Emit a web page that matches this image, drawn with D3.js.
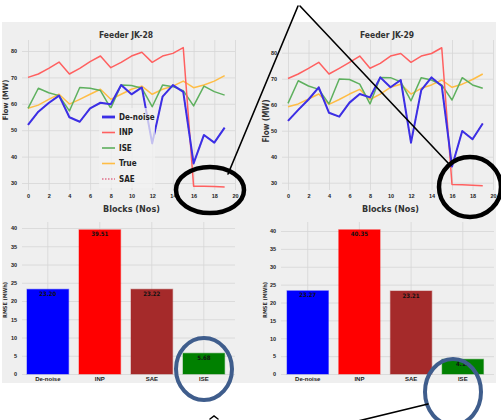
<!doctype html>
<html lang="en">
<head>
  <meta charset="utf-8">
  <title>Feeder JK-28 / JK-29</title>
  <style>
    * { margin: 0; padding: 0; box-sizing: border-box; }
    body { background: #fff; }
    svg { display: block; font-family: "DejaVu Sans Condensed", "DejaVu Sans", sans-serif; }
    .tick text { fill: #222; font-weight: bold; }
  </style>
</head>
<body>
  <div id="container"></div>
  <script src="https://cdn.jsdelivr.net/npm/d3@7"></script>
  <script>
    // blocks 0..19
    const blocks = d3.range(20);
    const xTicks = [0, 2, 4, 6, 8, 10, 12, 14, 16, 18, 20];
    const flowTicks = [30, 40, 50, 60, 70, 80];
    const rmseTicks = [0, 5, 10, 15, 20, 25, 30, 35, 40];

    const denoise28 = [52, 57, 60.3, 63.1, 54.9, 53.2, 58.3, 60.4, 59.8, 67.1, 63.6, 66.2, 45, 62.7, 67.1, 64.5, 37.4, 48.2, 45.3, 51];
    const inp28 = [70, 71.3, 73.4, 75.8, 71.3, 73.4, 76, 78.1, 73.7, 75.7, 78.1, 79.5, 75.7, 78.1, 79.1, 81.3, 28.8, 28.8, 28.7, 28.5];
    const ise28 = [58.3, 65.9, 64.2, 63.1, 57.3, 66.2, 65.9, 65, 58.3, 67.1, 66.9, 65.9, 58.9, 67.1, 66.5, 65, 59.2, 66.7, 64.6, 63.3];
    const true28 = [58.3, 59.5, 61.7, 63.6, 59.9, 61.7, 63.6, 65.5, 61.7, 63.6, 65.5, 66.7, 63.6, 65.5, 66.7, 68.6, 66.1, 67.1, 68.6, 70.7];

    const denoise29 = [53.8, 58, 62, 66.7, 56.9, 55.4, 60.8, 64.1, 62.8, 70.5, 66.7, 69.5, 45.4, 65.6, 70.5, 67.2, 36.2, 49.9, 46.7, 52.8];
    const inp29 = [70.1, 71.8, 74, 76.3, 71.8, 74, 76.3, 78.7, 74, 75.9, 78.7, 79.7, 76.3, 78.7, 79.7, 81.9, 29.3, 29.2, 29, 28.8];
    const ise29 = [60.5, 69.2, 67.2, 65.9, 60.3, 69.9, 69.7, 67.9, 60.3, 70.5, 70.4, 68.8, 61.5, 70.4, 69.5, 67.6, 61.8, 70.4, 67.6, 66.3];
    const true29 = [59.2, 60.3, 62.2, 64.1, 60.1, 62, 64.1, 65.9, 62, 64.1, 66.7, 67.9, 64.1, 66.3, 67.6, 69.5, 66.7, 67.9, 69.7, 71.8];

    // SAE sits under the De-noise curve (same RMSE), so it is hidden in the plot
    const sae28 = denoise28;
    const sae29 = denoise29;

    const methods = ['De-noise', 'INP', 'SAE', 'ISE'];
    const rmse28 = [23.20, 39.51, 23.22, 5.68];
    const rmse29 = [23.27, 40.35, 23.21, 4.12];

    const seriesNames = ['De-noise', 'INP', 'ISE', 'True', 'SAE'];
    const lineColor = { 'De-noise': '#3b2fe6', 'INP': '#ff6060', 'ISE': '#5eb05e', 'True': '#ffbd45', 'SAE': '#e0708a' };
    const barColor = ['#0000ff', '#ff0000', '#a52a2a', '#008000'];

    const W = 501, H = 420;
    const svg = d3.select('#container').append('svg').attr('width', W).attr('height', H);

    // gray backdrop of the pasted figure
    svg.append('rect').attr('x', 2).attr('y', 22).attr('width', 494).attr('height', 361).attr('fill', '#efefef');

    function lineChart(o) {
      const g = svg.append('g');
      const x = d3.scaleLinear().domain([0, 20]).range(o.xr);
      const y = d3.scaleLinear().domain([30, 80]).range(o.yr);

      // grid + tick labels
      g.append('g').attr('transform', `translate(0,${o.bottom})`)
        .call(d3.axisBottom(x).tickValues(xTicks).tickSize(-(o.bottom - o.top)).tickPadding(4))
        .call(a => a.select('.domain').remove())
        .call(a => a.selectAll('line').attr('stroke', '#d6d6d6').attr('stroke-width', 0.8))
        .call(a => a.selectAll('text').attr('font-size', 5.5));
      g.append('g').attr('transform', `translate(${o.left},0)`)
        .call(d3.axisLeft(y).tickValues(flowTicks).tickSize(-(o.right - o.left)).tickPadding(5))
        .call(a => a.select('.domain').remove())
        .call(a => a.selectAll('line').attr('stroke', '#d6d6d6').attr('stroke-width', 0.8))
        .call(a => a.selectAll('text').attr('font-size', 5.5));

      const line = d3.line().x((d, i) => x(i)).y(d => y(d));
      const draw = (name, data, w, dash) => g.append('path').datum(data)
        .attr('d', line).attr('fill', 'none').attr('stroke', lineColor[name])
        .attr('stroke-width', w).attr('stroke-dasharray', dash || null)
        .attr('stroke-linejoin', 'round');

      draw('SAE', o.sae, 1.3, '1.5,1.5');
      draw('True', o.tru, 1.5);
      draw('ISE', o.ise, 1.5);
      draw('INP', o.inp, 1.5);
      const legendBox = o.legend ? g.append('rect').attr('x', 99).attr('y', 108).attr('width', 56)
        .attr('height', 80).attr('fill', '#f2f2f2').attr('opacity', 0.75) : null;
      draw('De-noise', o.den, 2);
      if (legendBox) legendBox.raise();

      g.append('text').attr('x', o.titleX).attr('y', 35).attr('text-anchor', 'middle')
        .attr('dominant-baseline', 'middle').attr('font-size', 8.5).attr('font-weight', 'bold')
        .attr('fill', '#333').text(o.title);
      g.append('text').attr('x', (o.xr[0] + o.xr[1]) / 2).attr('y', 209).attr('text-anchor', 'middle')
        .attr('dominant-baseline', 'middle').attr('font-size', 9).attr('font-weight', 'bold')
        .attr('fill', '#333').text('Blocks (Nos)');
      g.append('text').attr('transform', `translate(${o.ylabX},${o.ylabY}) rotate(-90)`)
        .attr('text-anchor', 'middle').attr('dominant-baseline', 'middle')
        .attr('font-size', o.ylabSize).attr('font-weight', 'bold').attr('fill', '#333').text('Flow (MW)');

      if (o.legend) {
        const lg = g.append('g');
        seriesNames.forEach((n, i) => {
          const yy = 117 + i * 15.5;
          lg.append('line').attr('x1', 102).attr('x2', 115).attr('y1', yy).attr('y2', yy)
            .attr('stroke', lineColor[n]).attr('stroke-width', n === 'De-noise' ? 2.8 : 1.6)
            .attr('stroke-dasharray', n === 'SAE' ? '1.5,1.5' : null);
          lg.append('text').attr('x', 119).attr('y', yy).attr('dominant-baseline', 'middle')
            .attr('font-size', 8).attr('font-weight', 'bold').attr('fill', '#222').text(n);
        });
      }
    }

    function barChart(o) {
      const g = svg.append('g');
      const x = d3.scaleBand().domain(methods).range(o.xr).padding(0.2);
      const y = d3.scaleLinear().domain([0, 40]).range(o.yr);

      g.append('g').attr('transform', `translate(0,${o.yr[0]})`)
        .call(d3.axisBottom(x).tickSize(-(o.yr[0] - o.top)).tickPadding(3))
        .call(a => a.select('.domain').remove())
        .call(a => a.selectAll('line').attr('stroke', '#d6d6d6').attr('stroke-width', 0.8))
        .call(a => a.selectAll('text').attr('font-size', 6));
      g.append('g').attr('transform', `translate(${o.left},0)`)
        .call(d3.axisLeft(y).tickValues(rmseTicks).tickSize(-(o.right - o.left)).tickPadding(5))
        .call(a => a.select('.domain').remove())
        .call(a => a.selectAll('line').attr('stroke', '#d6d6d6').attr('stroke-width', 0.8))
        .call(a => a.selectAll('text').attr('font-size', 5.5));

      g.selectAll('rect.bar').data(o.values).join('rect').attr('class', 'bar')
        .attr('x', (d, i) => x(methods[i])).attr('width', x.bandwidth())
        .attr('y', d => y(d)).attr('height', d => y(0) - y(d))
        .attr('fill', (d, i) => barColor[i]).attr('stroke', (d, i) => barColor[i])
        .attr('stroke-opacity', 0.4).attr('stroke-width', 1.2);
      g.selectAll('text.val').data(o.values).join('text').attr('class', 'val')
        .attr('x', (d, i) => x(methods[i]) + x.bandwidth() / 2).attr('y', d => y(d) + 5)
        .attr('text-anchor', 'middle').attr('dominant-baseline', 'middle')
        .attr('font-size', 6).attr('font-weight', 'bold').attr('fill', '#111')
        .text(d => d.toFixed(2));

      g.append('text').attr('transform', `translate(${o.ylabX},300) rotate(-90)`)
        .attr('text-anchor', 'middle').attr('dominant-baseline', 'middle')
        .attr('font-size', 5.5).attr('font-weight', 'bold').attr('fill', '#333').text('RMSE (MWh)');
    }

    lineChart({ xr: [28, 235], yr: [183, 51], left: 22, right: 235, top: 40, bottom: 190,
      den: denoise28, inp: inp28, ise: ise28, tru: true28, sae: sae28,
      title: 'Feeder JK-28', titleX: 126, ylabX: 6, ylabY: 100, ylabSize: 7.5, legend: true });
    lineChart({ xr: [288, 493], yr: [182.7, 52.7], left: 282, right: 493, top: 40, bottom: 190,
      den: denoise29, inp: inp29, ise: ise29, tru: true29, sae: sae29,
      title: 'Feeder JK-29', titleX: 387, ylabX: 266, ylabY: 121, ylabSize: 8, legend: false });

    barChart({ xr: [16.6, 235], yr: [374, 228], left: 22, right: 235, top: 222, values: rmse28, ylabX: 5 });
    barChart({ xr: [276.7, 493.8], yr: [374, 231], left: 281, right: 494, top: 222, values: rmse29, ylabX: 265 });

    // hand-drawn annotations on top
    const ann = svg.append('g').attr('fill', 'none').attr('stroke-linecap', 'round');
    ann.append('line').attr('x1', 298).attr('y1', 6).attr('x2', 228).attr('y2', 174).attr('stroke', '#000').attr('stroke-width', 1.6);
    ann.append('line').attr('x1', 300).attr('y1', 6).attr('x2', 449).attr('y2', 164).attr('stroke', '#000').attr('stroke-width', 1.6);
    ann.append('ellipse').attr('cx', 210).attr('cy', 190).attr('rx', 34).attr('ry', 23).attr('stroke', '#000').attr('stroke-width', 4.5);
    ann.append('ellipse').attr('cx', 470).attr('cy', 187).attr('rx', 31).attr('ry', 30).attr('stroke', '#000').attr('stroke-width', 4.5);
    ann.append('ellipse').attr('cx', 204).attr('cy', 369).attr('rx', 28).attr('ry', 31).attr('stroke', '#3f5d8c').attr('stroke-width', 4);
    ann.append('ellipse').attr('cx', 453).attr('cy', 392).attr('rx', 28).attr('ry', 33).attr('stroke', '#3f5d8c').attr('stroke-width', 4);
    ann.append('line').attr('x1', 428).attr('y1', 404).attr('x2', 358).attr('y2', 421).attr('stroke', '#000').attr('stroke-width', 1.6);
    ann.append('path').attr('d', 'M210,419 L214,416 L218,419').attr('stroke', '#000').attr('stroke-width', 1.5);
  </script>
</body>
</html>
